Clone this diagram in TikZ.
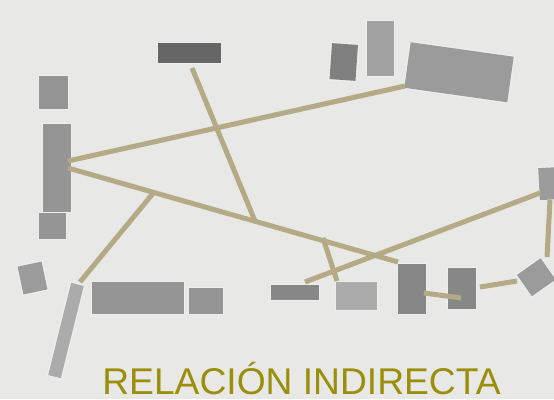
\documentclass[tikz,border=0pt]{standalone}
\usepackage{fontspec}
\setmainfont{Liberation Sans}
\usetikzlibrary{calc}
\definecolor{bg}{HTML}{E8E8E6}
\definecolor{halo}{HTML}{EEEEED}
\definecolor{linkc}{HTML}{B4AA86}
\definecolor{titlec}{HTML}{9A8E0B}
\definecolor{gmid}{HTML}{959595}
\definecolor{gdark}{HTML}{666666}
\definecolor{gdim}{HTML}{808080}
\definecolor{gdeep}{HTML}{878787}
\definecolor{glight}{HTML}{A2A2A2}
\definecolor{gpale}{HTML}{ABABAB}
\definecolor{gsoft}{HTML}{9B9B9B}
\begin{document}
\begin{tikzpicture}[x=1pt,y=-1pt,
  box/.style={fill=#1, inner sep=0pt, outer sep=0pt,
    preaction={draw=halo, line width=2.5pt}},
  link/.style={draw=linkc, line width=5pt}]
\fill[bg] (0,0) rectangle (554,399);
\useasboundingbox (0,0) rectangle (554,399);

% boxes
\node[box=gmid, minimum width=29pt, minimum height=33pt] (A) at (53.5,92.5) {};
\node[box=gmid, minimum width=28pt, minimum height=88pt] (B) at (57,168) {};
\node[box=gmid, minimum width=27pt, minimum height=26pt] (C) at (52.5,226) {};
\node[box=gsoft, minimum width=24.5pt, minimum height=28.4pt, rotate=12] (D) at (32.5,278) {};
\node[box=gpale, minimum width=13pt, minimum height=95pt, rotate=-14] (E) at (66,330.5) {};
\node[box=gmid, minimum width=92pt, minimum height=32pt] (F) at (138,298) {};
\node[box=gmid, minimum width=34pt, minimum height=26pt] (G) at (206,301) {};
\node[box=gdark, minimum width=63pt, minimum height=20pt] (H) at (189.5,53) {};
\node[box=gdim, minimum width=26pt, minimum height=36pt, rotate=-4] (I) at (343.75,62) {};
\node[box=glight, minimum width=27pt, minimum height=55pt] (J) at (380.5,48.5) {};
\node[box=gsoft, minimum width=104pt, minimum height=46pt, rotate=-8] (K) at (459,72.25) {};
\node[box=gsoft, minimum width=24pt, minimum height=32pt, rotate=3] (L) at (551,183.5) {};
\node[box=gsoft, minimum width=29pt, minimum height=26pt, rotate=35] (M) at (536.25,277.25) {};
\node[box=gdeep, minimum width=48pt, minimum height=15pt] (N) at (295,292.5) {};
\node[box=gpale, minimum width=41pt, minimum height=28pt] (O) at (356.5,296) {};
\node[box=gdeep, minimum width=28pt, minimum height=50pt] (P) at (412,289) {};
\node[box=gdeep, minimum width=28pt, minimum height=41pt] (Q) at (462,288.5) {};

% connector end points
\coordinate (b1) at (68,161);
\coordinate (k1) at (405,86);
\coordinate (b2) at (68,168);
\coordinate (p1) at (398,262);
\coordinate (j1) at ($(b2)!0.26!(p1)$);
\coordinate (j2) at ($(b2)!0.567!(p1)$);
\coordinate (j3) at ($(b2)!0.774!(p1)$);
\coordinate (e1) at (80,282);
\coordinate (h1) at (192,68);
\coordinate (o1) at (337,281);
\coordinate (n1) at (305,282);
\coordinate (l1) at (540,193);
\coordinate (l2) at (550,200);
\coordinate (m1) at (547,257);
\coordinate (m2) at (517,281);
\coordinate (q1) at (480,287);
\coordinate (p2) at (424,293);
\coordinate (q2) at (461,298);

% connectors
\draw[link] (b1) -- (k1);
\draw[link] (b2) -- (p1);
\draw[link] (j1) -- (e1);
\draw[link] (h1) -- (j2);
\draw[link] ($(j3)+(-0.5,-3)$) -- (o1);
\draw[link] (n1) -- (l1);
\draw[link] (l2) -- (m1);
\draw[link] (m2) -- (q1);
\draw[link] (p2) -- (q2);

% title
\node[text=titlec, inner sep=0pt, anchor=base] (title) at (301.5,394)
  {\fontsize{37.2}{40}\selectfont RELACIÓN INDIRECTA};
\end{tikzpicture}
\end{document}
